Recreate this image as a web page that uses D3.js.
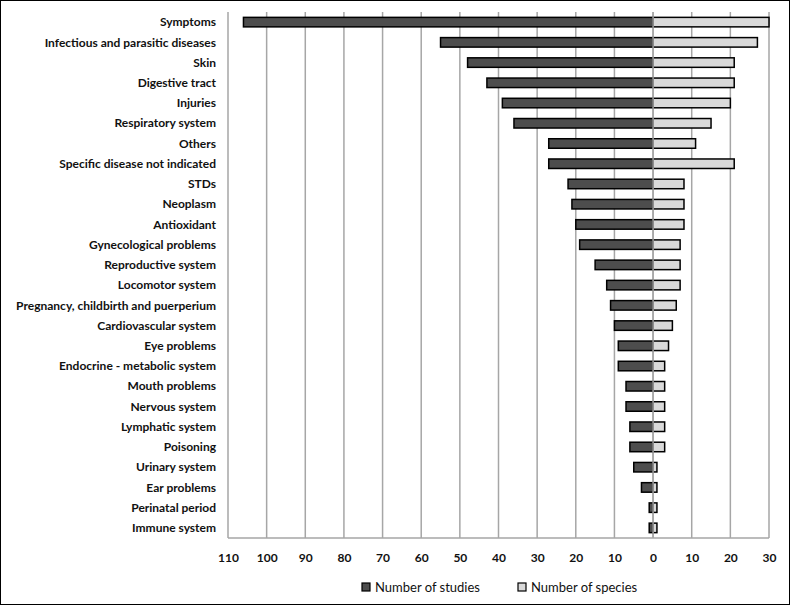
<!DOCTYPE html>
<html>
<head>
<meta charset="utf-8">
<script src="https://cdn.jsdelivr.net/npm/d3@7"></script>
<style>
  body { margin: 0; background: #fff; }
  svg text { font-family: Lato, "Open Sans", sans-serif; font-weight: bold; fill: #111; }
</style>
</head>
<body>
<script>
const categories = [
  "Symptoms", "Infectious and parasitic diseases", "Skin", "Digestive tract", "Injuries",
  "Respiratory system", "Others", "Specific disease not indicated", "STDs", "Neoplasm",
  "Antioxidant", "Gynecological problems", "Reproductive system", "Locomotor system",
  "Pregnancy, childbirth and puerperium", "Cardiovascular system", "Eye problems",
  "Endocrine - metabolic system", "Mouth problems", "Nervous system", "Lymphatic system",
  "Poisoning", "Urinary system", "Ear problems", "Perinatal period", "Immune system"
];
const studies = [106, 55, 48, 43, 39, 36, 27, 27, 22, 21, 20, 19, 15, 12, 11, 10, 9, 9, 7, 7, 6, 6, 5, 3, 1, 1];
const species = [30, 27, 21, 21, 20, 15, 11, 21, 8, 8, 8, 7, 7, 7, 6, 5, 4, 3, 3, 3, 3, 3, 1, 1, 1, 1];
const tickValues = [-110, -100, -90, -80, -70, -60, -50, -40, -30, -20, -10, 0, 10, 20, 30];
const seriesNames = ["Number of studies", "Number of species"];

const width = 790;
const height = 605;
const marginTop = 12;
const marginLeft = 228;
const plotRight = 769;
const plotBottom = 538;

const rows = categories.map((c, i) => ({ cat: c, studies: studies[i], species: species[i] }));

const x = d3.scaleLinear()
  .domain([-110, 30])
  .range([marginLeft, plotRight]);

const y = d3.scaleBand()
  .domain(categories)
  .range([marginTop, plotBottom])
  .paddingInner(0.53)
  .paddingOuter(0.265);

const svg = d3.create("svg")
  .attr("width", width)
  .attr("height", height);

// outer border
svg.append("rect")
  .attr("x", 0.5).attr("y", 0.5)
  .attr("width", width - 1).attr("height", height - 1)
  .attr("fill", "white")
  .attr("stroke", "#000")
  .attr("stroke-width", 1);

// gridlines
svg.append("g")
  .selectAll("line")
  .data(tickValues)
  .join("line")
  .attr("x1", d => x(d)).attr("x2", d => x(d))
  .attr("y1", marginTop).attr("y2", plotBottom)
  .attr("stroke", "#a6a6a6")
  .attr("stroke-width", 1.5);

// bottom axis line
svg.append("line")
  .attr("x1", marginLeft).attr("x2", plotRight)
  .attr("y1", plotBottom).attr("y2", plotBottom)
  .attr("stroke", "#a6a6a6")
  .attr("stroke-width", 1.5);

// tick labels
const xAxis = svg.append("g")
  .attr("transform", `translate(0,${plotBottom})`)
  .call(d3.axisBottom(x).tickValues(tickValues).tickSize(0).tickPadding(15).tickFormat(d => Math.abs(d)));
xAxis.select(".domain").remove();
xAxis.selectAll("text").attr("font-size", 12).style("font-family", "Lato, sans-serif").style("font-weight", "bold");

// category labels
svg.append("g")
  .selectAll("text")
  .data(rows)
  .join("text")
  .attr("x", 216)
  .attr("y", d => y(d.cat) + y.bandwidth() / 2)
  .attr("dy", "0.35em")
  .attr("text-anchor", "end")
  .attr("font-size", 12)
  .text(d => d.cat);

// studies bars (left)
svg.append("g")
  .selectAll("rect")
  .data(rows)
  .join("rect")
  .attr("x", d => x(-d.studies))
  .attr("y", d => y(d.cat))
  .attr("width", d => x(0) - x(-d.studies))
  .attr("height", y.bandwidth())
  .attr("fill", "#4d4d4d")
  .attr("stroke", "#000")
  .attr("stroke-width", 1.5);

// species bars (right)
svg.append("g")
  .selectAll("rect")
  .data(rows)
  .join("rect")
  .attr("x", x(0))
  .attr("y", d => y(d.cat))
  .attr("width", d => x(d.species) - x(0))
  .attr("height", y.bandwidth())
  .attr("fill", "#d9d9d9")
  .attr("stroke", "#000")
  .attr("stroke-width", 1.5);

// zero line on top
svg.append("line")
  .attr("x1", x(0)).attr("x2", x(0))
  .attr("y1", marginTop).attr("y2", plotBottom)
  .attr("stroke", "#a6a6a6")
  .attr("stroke-width", 1.5);

// legend
const legend = svg.append("g");
const legendX = [362, 518];
const legendFill = ["#4d4d4d", "#d9d9d9"];
seriesNames.forEach((name, i) => {
  legend.append("rect")
    .attr("x", legendX[i]).attr("y", 583)
    .attr("width", 8).attr("height", 8)
    .attr("fill", legendFill[i])
    .attr("stroke", "#000")
    .attr("stroke-width", 1.2);
  legend.append("text")
    .attr("x", legendX[i] + 13)
    .attr("y", 587)
    .attr("dy", "0.35em")
    .attr("font-size", 13)
    .style("font-weight", "normal")
    .text(name);
});

document.body.appendChild(svg.node());
</script>
</body>
</html>
